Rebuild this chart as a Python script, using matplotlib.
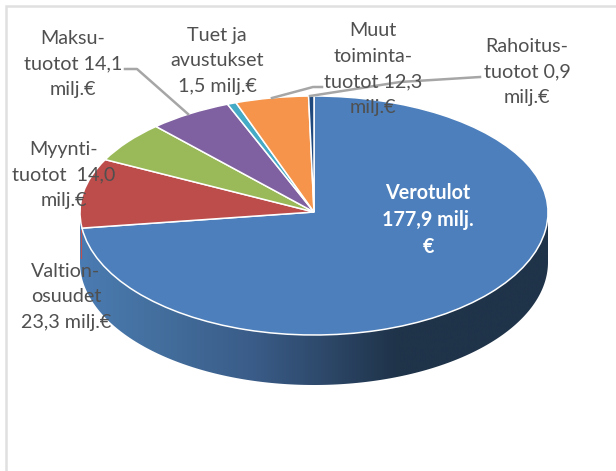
import numpy as np
import matplotlib
matplotlib.use('Agg')
import matplotlib.pyplot as plt
from matplotlib.colors import LinearSegmentedColormap
from matplotlib.patches import Polygon

plt.rcParams['font.family'] = ['Lato', 'DejaVu Sans']

W, H = 616, 471

# milj. euroa, clockwise from the top
names = ['Verotulot', 'Valtionosuudet', 'Myyntituotot', 'Maksutuotot',
         'Tuet ja avustukset', 'Muut toimintatuotot', 'Rahoitustuotot']
values = [177.9, 23.3, 14.0, 14.1, 1.5, 12.3, 0.9]
colors = ['#4c7fbb', '#bd4d4a', '#9aba59', '#7f60a0', '#45aac5', '#f5944a', '#1f497d']

labels = ['Maksu-\ntuotot 14,1\nmilj.€', 'Tuet ja\navustukset\n1,5 milj.€',
          'Myynti-\ntuotot  14,0\nmilj.€', 'Muut\ntoiminta-\ntuotot 12,3\nmilj.€',
          'Rahoitus-\ntuotot 0,9\nmilj.€', 'Valtion-\nosuudet\n23,3 milj.€']
label_x = [73, 217, 64, 373, 527, 66]
label_y = [64, 61, 175, 69, 72, 297]

cx, cy = 314, 212
rx, ry_up, ry_down = 234, 116, 123
depth = 50

fig = plt.figure(figsize=(W / 100, H / 100), dpi=100, facecolor='white')

# pixel axes under the pie: frame and the side of the disc
back = fig.add_axes([0, 0, 1, 1], zorder=1)
back.set_xlim(0, W)
back.set_ylim(H, 0)
back.axis('off')
back.plot([6, 6, W], [H, 6, 6], color='#e0e0e0', lw=1.8, solid_joinstyle='miter')

t = np.linspace(0, np.pi, 200)
rim = np.column_stack([cx + rx * np.cos(t), cy + ry_down * np.sin(t) + depth])
side_poly = np.vstack([[cx + rx, cy], rim, [cx - rx, cy]])
side = Polygon(side_poly, closed=True, transform=back.transData, fc='none', ec='none')
back.add_patch(side)
shade = LinearSegmentedColormap.from_list('side', [
    (0.0, '#4a7bb2'), (0.15, '#44709f'), (0.37, '#3a5c88'),
    (0.50, '#2f4b6e'), (0.68, '#1f3349'), (1.0, '#1f3349')])
img = back.imshow(np.linspace(0, 1, 256)[None, :], cmap=shade, aspect='auto',
                  extent=[cx - rx, cx + rx, H, 0], zorder=2)
img.set_clip_path(side)
back.set_xlim(0, W)
back.set_ylim(H, 0)
back.plot([cx - rx + 0.5] * 2, [cy + 18, cy + 46], color='#c0504d', lw=0.8, zorder=3)

# top of the disc, squashed: perspective makes the front half a bit deeper
def squash(y):
    y = np.asarray(y, dtype=float)
    return np.where(y > 0, y * ry_up, y * ry_down)

def unsquash(y):
    y = np.asarray(y, dtype=float)
    return np.where(y > 0, y / ry_up, y / ry_down)

ax = fig.add_axes([(cx - rx) / W, (H - cy - ry_down) / H, 2 * rx / W, (ry_up + ry_down) / H], zorder=2)
ax.pie(values, colors=colors, startangle=90, counterclock=False,
       wedgeprops={'edgecolor': 'white', 'linewidth': 1.1, 'clip_on': False})
ax.set_aspect('auto')
ax.set_yscale('function', functions=(squash, unsquash))
ax.set_xlim(-1, 1)
ax.set_ylim(-1, 1)
ax.axis('off')

# labels and leader lines on top
top = fig.add_axes([0, 0, 1, 1], zorder=3)
top.set_xlim(0, W)
top.set_ylim(H, 0)
top.axis('off')
for lx, ly in [([125, 137, 188], [69, 69, 114]),
               ([272, 313, 322], [98, 87, 87]),
               ([310, 400, 480], [96, 82, 77])]:
    top.plot(lx, ly, color='#a6a6a6', lw=1.8)
for s, x, y in zip(labels, label_x, label_y):
    top.text(x, y, s, ha='center', va='center', fontsize=14.2, color='#505050', linespacing=1.62)
top.text(428, 220, 'Verotulot\n177,9 milj.\n€', ha='center', va='center', fontsize=14.2,
         fontweight='bold', color='white', linespacing=1.42)

fig.savefig('out.png', dpi=100)
